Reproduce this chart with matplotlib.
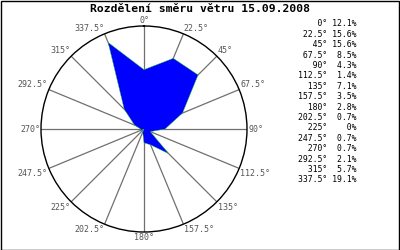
import numpy as np
import matplotlib
matplotlib.use("Agg")
import matplotlib.pyplot as plt
from matplotlib.patches import Rectangle

# wind direction distribution, 15.09.2008
directions = [0, 22.5, 45, 67.5, 90, 112.5, 135, 157.5,
              180, 202.5, 225, 247.5, 270, 292.5, 315, 337.5]
percent = [12.1, 15.6, 15.6, 8.5, 4.3, 1.4, 7.1, 3.5,
           2.8, 0.7, 0, 0.7, 0.7, 2.1, 5.7, 19.1]
title = "Rozdělení směru větru 15.09.2008"

W, H = 400, 250
fig = plt.figure(figsize=(W / 100, H / 100), dpi=100)
fig.patch.set_facecolor("white")
fig.patches.append(Rectangle((0.5 / W, 0.5 / H), (W - 1.5) / W, (H - 1.5) / H,
                             transform=fig.transFigure, fill=False,
                             edgecolor="black", linewidth=1.0))

mono = "DejaVu Sans Mono"
rmax = 21.0

# polar area: centre (144,129), radius 103 px
cx, cy, rad = 144, 129, 103
ax = fig.add_axes([(cx - rad) / W, (H - cy - rad) / H, 2 * rad / W, 2 * rad / H],
                  projection="polar")
ax.set_theta_zero_location("N")
ax.set_theta_direction(-1)
ax.set_ylim(0, rmax)
ax.grid(False)
ax.set_xticks([])
ax.set_yticks([])
ax.spines["polar"].set_color("black")
ax.spines["polar"].set_linewidth(1.0)
ax.set_facecolor("white")

theta = np.deg2rad(directions)

# spokes
for t in theta:
    ax.plot([t, t], [0, rmax], color="#707070", linewidth=0.9, zorder=1)

# wind polygon
tt = np.append(theta, theta[0])
rr = np.append(percent, percent[0])
ax.fill(tt, rr, facecolor="#0000ff", edgecolor="#22cc22", linewidth=0.3, zorder=2)

# angle labels
for d, t in zip(directions, theta):
    s, c = np.sin(t), np.cos(t)
    ha = "left" if s > 0.01 else ("right" if s < -0.01 else "center")
    va = "bottom" if c > 0.01 else ("top" if c < -0.01 else "center")
    ax.text(t, rmax * 1.01, f"{d:g}°", ha=ha, va=va, fontsize=6.0,
            family=mono, color="#555555", clip_on=False)

fig.text(0.5, (H - 9) / H, title, ha="center", va="center",
         fontsize=8.2, fontweight="bold", family=mono, color="black")

# legend
for i, (d, p) in enumerate(zip(directions, percent)):
    y = 24 + i * 10.4
    fig.text(356 / W, (H - y) / H, f"{d:>5g}° {p:>4g}%", ha="right", va="center",
             fontsize=5.9, family=mono, color="black")

fig.savefig("out.png", dpi=100)
